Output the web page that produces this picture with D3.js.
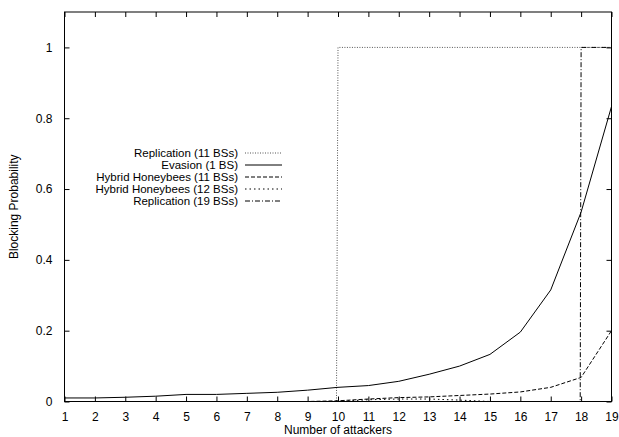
<!DOCTYPE html>
<html>
<head>
<meta charset="utf-8">
<script src="https://d3js.org/d3.v7.min.js"></script>
<style>
  body { margin: 0; background: #fff; }
  text { font-family: "Liberation Sans", Arial, sans-serif; font-size: 12px; fill: #000; }
</style>
</head>
<body>
<div id="chart"></div>
<script>
// values
const attackers = [1, 2, 3, 4, 5, 6, 7, 8, 9, 10, 11, 12, 13, 14, 15, 16, 17, 18, 19];
const evasion1 = [0.010, 0.010, 0.012, 0.015, 0.020, 0.020, 0.023, 0.026, 0.032, 0.040, 0.045, 0.057, 0.077, 0.100, 0.133, 0.196, 0.315, 0.535, 0.833];
const hybrid11 = [0, 0, 0, 0, 0, 0, 0, 0, 0, 0.002, 0.007, 0.011, 0.013, 0.017, 0.021, 0.027, 0.040, 0.068, 0.200];
const hybrid12 = [0, 0, 0, 0, 0, 0, 0, 0, 0, 0, 0.005, 0.007, 0.007, 0.004, 0, 0, 0, 0, 0];
// replication curves jump straight up just before the integer
const rep11X = [1, 2, 3, 4, 5, 6, 7, 8, 9, 9.95, 10, 11, 12, 13, 14, 15, 16, 17, 18, 19];
const rep11Y = [0, 0, 0, 0, 0, 0, 0, 0, 0, 0, 1, 1, 1, 1, 1, 1, 1, 1, 1, 1];
const rep19X = [1, 2, 3, 4, 5, 6, 7, 8, 9, 10, 11, 12, 13, 14, 15, 16, 17, 17.97, 18, 19];
const rep19Y = [0, 0, 0, 0, 0, 0, 0, 0, 0, 0, 0, 0, 0, 0, 0, 0, 0, 0, 1, 1];
const yTicks = [0, 0.2, 0.4, 0.6, 0.8, 1];

let width = 619, height = 437;
let margin = {top: 12, right: 7.5, bottom: 35.5, left: 64.5};

let svg = d3.select("#chart")
    .append("svg")
    .attr("width", width)
    .attr("height", height);

const X_SCALE = d3.scaleLinear()
    .domain([1, 19])
    .range([margin.left, width - margin.right]);
const Y_SCALE = d3.scaleLinear()
    .domain([0, 1.1])
    .range([height - margin.bottom, margin.top]);

// series, in legend order
let series = [
    {name: "Replication (11 BSs)", xs: rep11X, ys: rep11Y, dash: "1,1.5", color: "#555"},
    {name: "Evasion (1 BS)", xs: attackers, ys: evasion1, dash: null, color: "#000"},
    {name: "Hybrid Honeybees (11 BSs)", xs: attackers, ys: hybrid11, dash: "4,2", color: "#000"},
    {name: "Hybrid Honeybees (12 BSs)", xs: attackers, ys: hybrid12, dash: "1.5,3", color: "#000"},
    {name: "Replication (19 BSs)", xs: rep19X, ys: rep19Y, dash: "5,2,1,2", color: "#000"}
];

let line = d3.line()
    .x(d => X_SCALE(d[0]))
    .y(d => Y_SCALE(d[1]));

series.forEach(s => {
    svg.append("path")
        .datum(s.xs.map((x, i) => [x, s.ys[i]]))
        .attr("d", line)
        .attr("fill", "none")
        .attr("stroke", s.color)
        .attr("stroke-width", 1)
        .attr("stroke-dasharray", s.dash);
});

// axes with inward ticks, mirrored on top and right
let xBottom = svg.append("g")
    .attr("transform", "translate(0," + (height - margin.bottom) + ")")
    .call(d3.axisBottom(X_SCALE).tickValues(attackers).tickSize(-5).tickPadding(11).tickFormat(d3.format("d")));
let xTop = svg.append("g")
    .attr("transform", "translate(0," + margin.top + ")")
    .call(d3.axisTop(X_SCALE).tickValues(attackers).tickSize(-5).tickFormat(""));
let yLeft = svg.append("g")
    .attr("transform", "translate(" + margin.left + ",0)")
    .call(d3.axisLeft(Y_SCALE).tickValues(yTicks).tickSize(-5).tickPadding(12).tickFormat(d => d));
let yRight = svg.append("g")
    .attr("transform", "translate(" + (width - margin.right) + ",0)")
    .call(d3.axisRight(Y_SCALE).tickValues(yTicks).tickSize(-5).tickFormat(""));

[xBottom, xTop, yLeft, yRight].forEach(g => {
    g.select(".domain").remove();
    g.selectAll("line").attr("stroke", "#000");
    g.selectAll("text").style("font-size", "12px").attr("font-family", null);
});

// frame
svg.append("rect")
    .attr("x", margin.left)
    .attr("y", margin.top)
    .attr("width", width - margin.left - margin.right)
    .attr("height", height - margin.top - margin.bottom)
    .attr("fill", "none")
    .attr("stroke", "#000")
    .attr("stroke-width", 1);

// axis titles
svg.append("text")
    .attr("x", (margin.left + width - margin.right) / 2)
    .attr("y", 434)
    .attr("text-anchor", "middle")
    .text("Number of attackers");
svg.append("text")
    .attr("transform", "translate(18," + ((margin.top + height - margin.bottom) / 2) + ") rotate(-90)")
    .attr("text-anchor", "middle")
    .text("Blocking Probability");

// legend
let legend = svg.append("g");
series.forEach((s, i) => {
    let y = 153 + i * 12;
    legend.append("text")
        .attr("x", 238)
        .attr("y", y)
        .attr("dy", "0.35em")
        .attr("text-anchor", "end")
        .style("font-size", "11.5px")
        .text(s.name);
    legend.append("line")
        .attr("x1", 245)
        .attr("x2", 282)
        .attr("y1", y)
        .attr("y2", y)
        .attr("stroke", s.color)
        .attr("stroke-width", 1)
        .attr("stroke-dasharray", s.dash);
});
</script>
</body>
</html>
